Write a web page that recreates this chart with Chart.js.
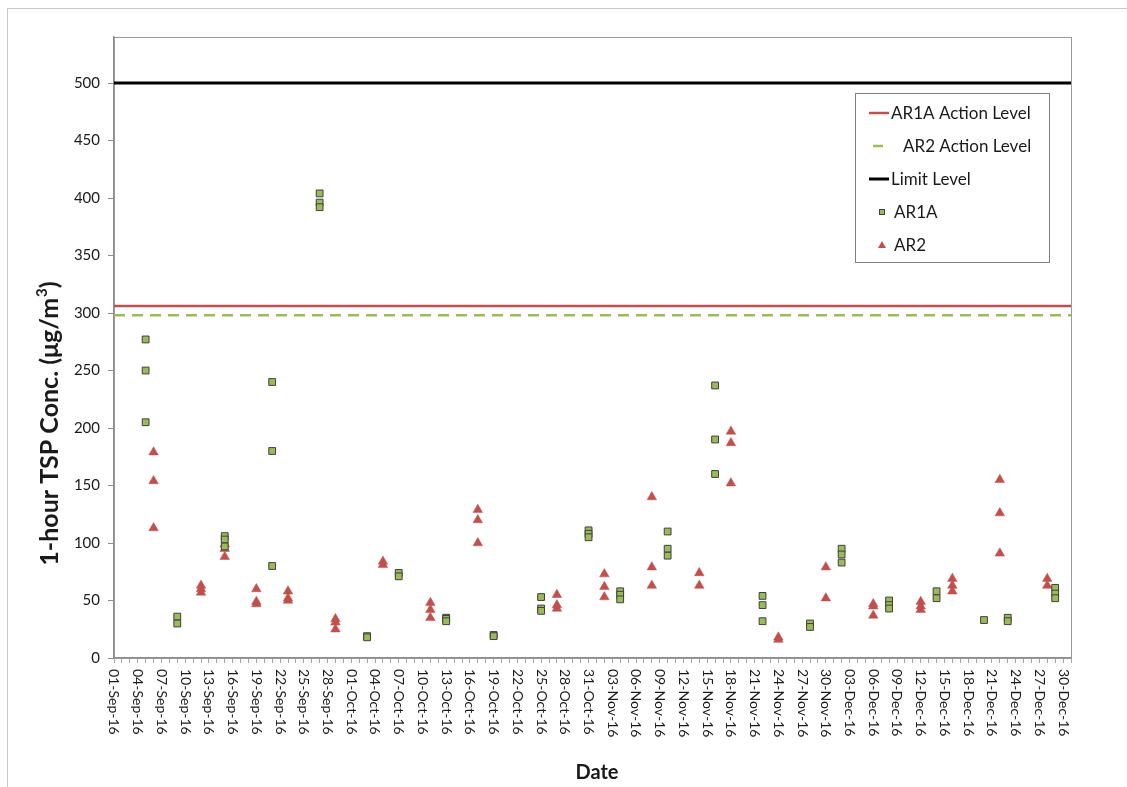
<!DOCTYPE html>
<html>
<head>
<meta charset="utf-8">
<title>1-hour TSP Conc.</title>
<script src="https://cdn.jsdelivr.net/npm/chart.js@4.4.1/dist/chart.umd.min.js"></script>
<style>
    html, body { margin: 0; padding: 0; background: #fff; }
    #tspChart { display: block; }
</style>
</head>
<body>
<canvas id="tspChart" width="1127" height="787"></canvas>
<script>
// Monitoring days and 1-hour TSP results (ug/m3), 1-3 readings per day
const ar1aDates = ['05-Sep-16', '09-Sep-16', '15-Sep-16', '21-Sep-16', '27-Sep-16', '03-Oct-16', '07-Oct-16',
    '13-Oct-16', '19-Oct-16', '25-Oct-16', '31-Oct-16', '04-Nov-16', '10-Nov-16', '16-Nov-16', '22-Nov-16',
    '28-Nov-16', '02-Dec-16', '08-Dec-16', '14-Dec-16', '20-Dec-16', '23-Dec-16', '29-Dec-16'];
const ar1aValues = [[277, 250, 205], [36, 30], [106, 103, 97], [240, 180, 80], [404, 396, 392], [19, 18], [74, 71],
    [35, 34, 32], [20, 19], [53, 43, 41], [111, 108, 105], [58, 55, 51], [110, 95, 89], [237, 190, 160], [54, 46, 32],
    [30, 27], [95, 90, 83], [50, 46, 43], [58, 52], [33], [35, 32], [61, 56, 52]];

const ar2Dates = ['06-Sep-16', '12-Sep-16', '15-Sep-16', '19-Sep-16', '23-Sep-16', '29-Sep-16', '05-Oct-16',
    '11-Oct-16', '17-Oct-16', '27-Oct-16', '02-Nov-16', '08-Nov-16', '14-Nov-16', '18-Nov-16', '24-Nov-16',
    '30-Nov-16', '06-Dec-16', '12-Dec-16', '16-Dec-16', '22-Dec-16', '28-Dec-16'];
const ar2Values = [[179, 154, 113], [63, 60, 57], [99, 95, 88], [60, 49, 47], [58, 52, 50], [34, 31, 25], [84, 81],
    [48, 42, 35], [129, 120, 100], [55, 46, 43], [73, 62, 53], [140, 79, 63], [74, 63], [197, 187, 152], [18, 16],
    [79, 52], [47, 45, 37], [49, 45, 42], [69, 63, 58], [155, 126, 91], [69, 63]];

// Action / limit levels (ug/m3)
const ar1aActionLevel = 306;
const ar2ActionLevel = 298;
const limitLevel = 500;

// Axis ticks
const xStartLabel = '01-Sep-16';
const xEndLabel = '31-Dec-16';
const xTickLabels = ['01-Sep-16', '04-Sep-16', '07-Sep-16', '10-Sep-16', '13-Sep-16', '16-Sep-16', '19-Sep-16',
    '22-Sep-16', '25-Sep-16', '28-Sep-16', '01-Oct-16', '04-Oct-16', '07-Oct-16', '10-Oct-16', '13-Oct-16',
    '16-Oct-16', '19-Oct-16', '22-Oct-16', '25-Oct-16', '28-Oct-16', '31-Oct-16', '03-Nov-16', '06-Nov-16',
    '09-Nov-16', '12-Nov-16', '15-Nov-16', '18-Nov-16', '21-Nov-16', '24-Nov-16', '27-Nov-16', '30-Nov-16',
    '03-Dec-16', '06-Dec-16', '09-Dec-16', '12-Dec-16', '15-Dec-16', '18-Dec-16', '21-Dec-16', '24-Dec-16',
    '27-Dec-16', '30-Dec-16'];
const yTickValues = [0, 50, 100, 150, 200, 250, 300, 350, 400, 450, 500];
const yMax = 540;

document.addEventListener('DOMContentLoaded', () => {
    const FONT = 'Lato, "Open Sans", sans-serif';
    const TEXT = '#1a1a1a';
    const RED = '#C0504D';
    const GREEN = '#9BBB59';

    // Date label -> day number counted from 01-Sep-16
    const MONTHS = { Sep: 8, Oct: 9, Nov: 10, Dec: 11 };
    function toDay(label) {
        const parts = label.split('-');
        const t = Date.UTC(2000 + Number(parts[2]), MONTHS[parts[1]], Number(parts[0]));
        return Math.round((t - Date.UTC(2016, 8, 1)) / 86400000);
    }

    function toPoints(dates, values) {
        const pts = [];
        dates.forEach((d, i) => {
            values[i].forEach(v => pts.push({ x: toDay(d), y: v }));
        });
        return pts;
    }

    const xMin = toDay(xStartLabel);
    const xMax = toDay(xEndLabel);

    function levelLine(value) {
        return [{ x: xMin, y: value }, { x: xMax, y: value }];
    }

    // Background, outer frame and plot frame
    const framePlugin = {
        id: 'frame',
        beforeDraw(chart) {
            const ctx = chart.ctx;
            ctx.save();
            ctx.fillStyle = '#fff';
            ctx.fillRect(0, 0, chart.width, chart.height);
            ctx.strokeStyle = '#c8c8c8';
            ctx.lineWidth = 1;
            ctx.strokeRect(7.5, 8.5, chart.width + 20, chart.height + 20);
            ctx.restore();
        },
        beforeDatasetsDraw(chart) {
            const a = chart.chartArea;
            const ctx = chart.ctx;
            ctx.save();
            ctx.strokeStyle = '#9a9a9a';
            ctx.lineWidth = 1;
            ctx.strokeRect(a.left + 0.5, a.top + 0.5, a.right - a.left, a.bottom - a.top);
            ctx.restore();
        }
    };

    // Rotated date labels, axis titles and the legend box
    const labelsPlugin = {
        id: 'labels',
        afterDraw(chart) {
            const ctx = chart.ctx;
            const a = chart.chartArea;
            const xs = chart.scales.x;

            ctx.save();
            ctx.fillStyle = TEXT;
            ctx.font = '14px ' + FONT;
            ctx.textAlign = 'left';
            ctx.textBaseline = 'middle';
            xTickLabels.forEach(lbl => {
                const x = xs.getPixelForValue(toDay(lbl));
                ctx.save();
                ctx.translate(x, a.bottom + 11);
                ctx.rotate(Math.PI / 2);
                ctx.fillText(lbl, 0, 0);
                ctx.restore();
            });

            // x title
            ctx.font = 'bold 20px ' + FONT;
            ctx.textAlign = 'center';
            ctx.fillText('Date', 597, 773);

            // y title with superscript
            ctx.save();
            ctx.translate(50, 424);
            ctx.rotate(-Math.PI / 2);
            const main = '1-hour TSP Conc. (\u03bcg/m';
            const bigFont = 'bold 25px ' + FONT;
            const supFont = 'bold 15px ' + FONT;
            ctx.font = bigFont;
            const wMain = ctx.measureText(main).width;
            const wTail = ctx.measureText(')').width;
            ctx.font = supFont;
            const wSup = ctx.measureText('3').width;
            let x0 = -(wMain + wSup + wTail) / 2;
            ctx.textAlign = 'left';
            ctx.font = bigFont;
            ctx.fillText(main, x0, 0);
            ctx.font = supFont;
            ctx.fillText('3', x0 + wMain + 1, -8);
            ctx.font = bigFont;
            ctx.fillText(')', x0 + wMain + wSup + 1, 0);
            ctx.restore();

            // legend
            ctx.strokeStyle = '#7f7f7f';
            ctx.lineWidth = 1;
            ctx.strokeRect(855.5, 93.5, 194, 169);
            ctx.font = '17px ' + FONT;
            ctx.textAlign = 'left';
            chart.data.datasets.forEach((ds, i) => {
                const y = 113 + i * 33;
                ctx.fillStyle = TEXT;
                if (ds.type === 'line') {
                    ctx.save();
                    ctx.strokeStyle = ds.borderColor;
                    ctx.lineWidth = ds.borderWidth;
                    ctx.beginPath();
                    if (ds.borderDash) {
                        ctx.moveTo(873, y);
                        ctx.lineTo(883, y);
                    } else {
                        ctx.moveTo(869, y);
                        ctx.lineTo(889, y);
                    }
                    ctx.stroke();
                    ctx.restore();
                    ctx.fillText(ds.label, ds.borderDash ? 903 : 891, y + 1);
                } else {
                    ctx.save();
                    ctx.fillStyle = ds.backgroundColor;
                    if (ds.pointStyle === 'rect') {
                        ctx.strokeStyle = ds.borderColor;
                        ctx.fillRect(879, y - 3, 6, 6);
                        ctx.strokeRect(879.5, y - 2.5, 5, 5);
                    } else {
                        ctx.beginPath();
                        ctx.moveTo(882, y - 4);
                        ctx.lineTo(886, y + 3);
                        ctx.lineTo(878, y + 3);
                        ctx.closePath();
                        ctx.fill();
                    }
                    ctx.restore();
                    ctx.fillText(ds.label, 894, y + 1);
                }
            });
            ctx.restore();
        }
    };

    const ctx = document.getElementById('tspChart').getContext('2d');

    new Chart(ctx, {
        type: 'scatter',
        data: {
            datasets: [
                {
                    type: 'line',
                    label: 'AR1A Action Level',
                    data: levelLine(ar1aActionLevel),
                    borderColor: RED,
                    borderWidth: 2.5,
                    pointRadius: 0
                },
                {
                    type: 'line',
                    label: 'AR2 Action Level',
                    data: levelLine(ar2ActionLevel),
                    borderColor: GREEN,
                    borderWidth: 2.5,
                    borderDash: [11, 7],
                    pointRadius: 0
                },
                {
                    type: 'line',
                    label: 'Limit Level',
                    data: levelLine(limitLevel),
                    borderColor: '#000',
                    borderWidth: 3,
                    pointRadius: 0
                },
                {
                    label: 'AR1A',
                    data: toPoints(ar1aDates, ar1aValues),
                    pointStyle: 'rect',
                    pointRadius: 4.8,
                    backgroundColor: GREEN,
                    borderColor: '#3f3f3f',
                    borderWidth: 1
                },
                {
                    label: 'AR2',
                    data: toPoints(ar2Dates, ar2Values),
                    pointStyle: 'triangle',
                    pointRadius: 5.5,
                    backgroundColor: RED,
                    borderColor: RED,
                    borderWidth: 0.5
                }
            ]
        },
        options: {
            responsive: false,
            devicePixelRatio: 1,
            animation: false,
            layout: { padding: { top: 37, right: 56, left: 0, bottom: 0 } },
            plugins: {
                legend: { display: false },
                tooltip: { enabled: false }
            },
            scales: {
                x: {
                    type: 'linear',
                    min: xMin,
                    max: xMax,
                    afterBuildTicks: scale => {
                        const ticks = [];
                        for (let d = xMin; d <= xMax; d++) ticks.push({ value: d });
                        scale.ticks = ticks;
                    },
                    afterFit: scale => { scale.height = 129; },
                    ticks: { display: false },
                    grid: { drawOnChartArea: false, drawTicks: true, tickLength: 5, color: '#a6a6a6' },
                    border: { color: '#8c8c8c', width: 1.5 }
                },
                y: {
                    min: 0,
                    max: yMax,
                    afterBuildTicks: scale => {
                        scale.ticks = yTickValues.map(v => ({ value: v }));
                    },
                    afterFit: scale => { scale.width = 114; },
                    ticks: { font: { family: FONT, size: 15 }, color: TEXT, padding: 8 },
                    grid: { drawOnChartArea: false, drawTicks: true, tickLength: 6, color: '#8c8c8c' },
                    border: { color: '#8c8c8c', width: 1.5 }
                }
            }
        },
        plugins: [framePlugin, labelsPlugin]
    });
});
</script>
</body>
</html>
